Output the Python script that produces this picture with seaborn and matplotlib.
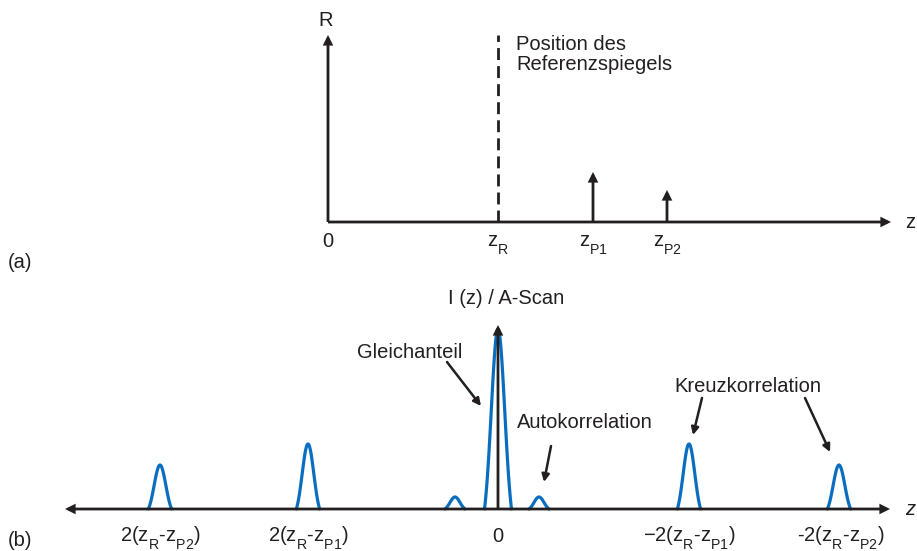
import numpy as np
import pandas as pd
import matplotlib
matplotlib.use("Agg")
import matplotlib.pyplot as plt
import matplotlib._mathtext as mathtext_internal
import seaborn as sns

sns.set_theme(style="white")
plt.rcParams["font.family"] = ["Liberation Sans", "DejaVu Sans"]
plt.rcParams["mathtext.fontset"] = "custom"
plt.rcParams["mathtext.rm"] = "Liberation Sans"
plt.rcParams["mathtext.it"] = "Liberation Sans:italic"
# deeper subscripts for the index letters
mathtext_internal.FontConstantsBase.sub1 = 0.75

INK = "#231f20"
BLUE = "#0a6ec0"
FS = 14.5

# ---- (a) reflector positions and reflectivities (arbitrary units) ----
z_ref = 1.70                      # reference mirror position z_R
z_reflectors = [2.65, 3.39]       # z_P1, z_P2
r_reflectors = [0.50, 0.32]       # reflectivity of each reflector
reflector_labels = [r"$\mathrm{z}_{\mathrm{P1}}$", r"$\mathrm{z}_{\mathrm{P2}}$"]
r_axis_top = 1.87

# ---- (b) A-scan peaks ----
peak_pos = [-3.38, -1.90, -0.43, 0.0, 0.41, 1.91, 3.41]
peak_height = [0.44, 0.65, 0.12, 1.80, 0.12, 0.65, 0.44]
peak_sigma = [0.058, 0.058, 0.05, 0.0675, 0.05, 0.058, 0.058]
peak_kind = ["Kreuz", "Kreuz", "Auto", "DC", "Auto", "Kreuz", "Kreuz"]
tick_pos = [-3.38, -1.90, 0.0, 1.91, 3.43]
tick_labels = [
    r"2($\mathrm{z}_{\mathrm{R}}$-$\mathrm{z}_{\mathrm{P2}}$)",
    r"2($\mathrm{z}_{\mathrm{R}}$-$\mathrm{z}_{\mathrm{P1}}$)",
    "0",
    "\u22122($\\mathrm{z}_{\\mathrm{R}}$-$\\mathrm{z}_{\\mathrm{P1}}$)",
    r"-2($\mathrm{z}_{\mathrm{R}}$-$\mathrm{z}_{\mathrm{P2}}$)",
]
i_axis_top = 1.84

# Build truncated, baseline-shifted gaussian bumps for every peak
rows = []
for k, (c, h, s) in enumerate(zip(peak_pos, peak_height, peak_sigma)):
    u = np.linspace(-2.0, 2.0, 81)
    g = (np.exp(-u**2 / 2) - np.exp(-2.0)) / (1 - np.exp(-2.0))
    for uu, gg in zip(u, g):
        rows.append({"peak": k, "z": c + uu * s, "I": h * gg})
df = pd.DataFrame(rows)

fig = plt.figure(figsize=(9.17, 5.51), dpi=100)
split = 276 / 551
ax_a = fig.add_axes([0, 1 - split, 1, split])
ax_b = fig.add_axes([0, 0, 1, 1 - split])
ax_a.set_xlim(-3.28, 5.89)
ax_a.set_ylim(-0.54, 2.22)
ax_b.set_xlim(-4.98, 4.19)
ax_b.set_ylim(-0.42, 2.33)
for ax in (ax_a, ax_b):
    ax.axis("off")

def arrow(ax, start, tip, lw=2.0, ms=11):
    ax.annotate("", xy=tip, xytext=start,
                arrowprops=dict(arrowstyle="-|>", lw=lw, color=INK,
                                mutation_scale=ms, shrinkA=0, shrinkB=0,
                                joinstyle="miter", capstyle="butt"))

# ---- panel (a) ----
arrow(ax_a, (0, 0), (5.63, 0))
arrow(ax_a, (0, 0), (0, r_axis_top))
ax_a.plot([z_ref, z_ref], [0, 1.87], color=INK, lw=2.0, dashes=(4.3, 2.2))
for z, r in zip(z_reflectors, r_reflectors):
    arrow(ax_a, (z, 0), (z, r))

ax_a.text(-0.02, 1.96, "R", fontsize=FS, ha="center", va="baseline", color=INK)
ax_a.text(0.0, -0.25, "0", fontsize=FS, ha="center", va="baseline", color=INK)
ax_a.text(z_ref, -0.25, r"$\mathrm{z}_{\mathrm{R}}$", fontsize=FS,
          ha="center", va="baseline", color=INK)
for z, lab in zip(z_reflectors, reflector_labels):
    ax_a.text(z, -0.25, lab, fontsize=FS, ha="center", va="baseline", color=INK)
ax_a.text(5.82, -0.06, "z", fontsize=FS, ha="center", va="baseline", color=INK)
ax_a.text(z_ref + 0.18, 1.87, "Position des\nReferenzspiegels", fontsize=FS,
          ha="left", va="top", color=INK, linespacing=1.05)
ax_a.text(-3.08, -0.40, "(a)", fontsize=FS, ha="center", va="center", color=INK)

# ---- panel (b) ----
arrow(ax_b, (0, 0), (3.92, 0))
arrow(ax_b, (0, 0), (-4.33, 0))
sns.lineplot(data=df, x="z", y="I", units="peak", estimator=None, sort=False,
             color=BLUE, lw=2.3, ax=ax_b, legend=False)
arrow(ax_b, (0, 0), (0, i_axis_top))
ax_b.set_xlim(-4.98, 4.19)
ax_b.set_ylim(-0.42, 2.33)
ax_b.axis("off")

ax_b.text(0.08, 2.05, "I (z) / A-Scan", fontsize=FS, ha="center", va="baseline", color=INK)
for x, lab in zip(tick_pos, tick_labels):
    ax_b.text(x, -0.33, lab, fontsize=FS, ha="center", va="baseline", color=INK)
ax_b.text(4.12, -0.06, "z", fontsize=FS, ha="center", va="baseline",
          style="italic", color=INK)
ax_b.text(-4.78, -0.31, "(b)", fontsize=FS, ha="center", va="center", color=INK)

def note(ax, start, tip):
    ax.annotate("", xy=tip, xytext=start,
                arrowprops=dict(arrowstyle="-|>", lw=1.8, color=INK,
                                mutation_scale=11, shrinkA=0, shrinkB=0))

ax_b.text(-0.88, 1.51, "Gleichanteil", fontsize=FS, ha="center", va="baseline", color=INK)
note(ax_b, (-0.51, 1.47), (-0.17, 1.03))
ax_b.text(0.87, 0.81, "Autokorrelation", fontsize=FS, ha="center", va="baseline", color=INK)
note(ax_b, (0.53, 0.63), (0.46, 0.27))
ax_b.text(2.50, 1.17, "Kreuzkorrelation", fontsize=FS, ha="center", va="baseline", color=INK)
note(ax_b, (2.04, 1.11), (1.95, 0.74))
note(ax_b, (3.07, 1.11), (3.32, 0.57))

fig.savefig("out.png", dpi=100, facecolor="white")
